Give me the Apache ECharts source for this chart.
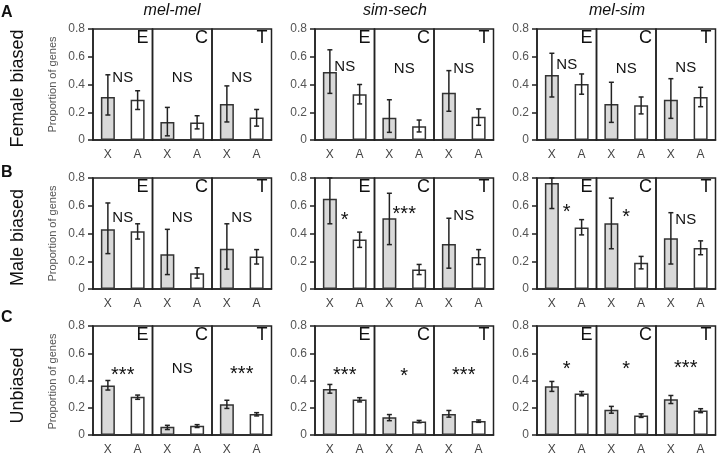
<!DOCTYPE html>
<html>
<head>
<meta charset="utf-8">
<script src="https://cdn.jsdelivr.net/npm/echarts@6/dist/echarts.min.js"></script>
<style>html,body{margin:0;padding:0;background:#fff;}#c{width:720px;height:456px;}</style>
</head>
<body>
<div id="c"></div>
<script>
// ---- data ----
const categories = ['X', 'A'];
const tissues = ['E', 'C', 'T'];
const comparisons = ['mel-mel', 'sim-sech', 'mel-sim'];
const biasGroups = ['Female biased', 'Male biased', 'Unbiased'];
const panelLetters = ['A', 'B', 'C'];
const yTicks = [0, 0.2, 0.4, 0.6, 0.8];
const yTitle = 'Proportion of genes';

// order of pairs: mel-mel E,C,T | sim-sech E,C,T | mel-sim E,C,T ; each pair = [X, A]
const femaleMean = [[0.31,0.29],[0.13,0.127],[0.26,0.163],[0.49,0.33],[0.16,0.10],[0.34,0.168],[0.469,0.404],[0.26,0.25],[0.29,0.31]];
const femaleLow  = [[0.18,0.22],[0.03,0.08],[0.13,0.10],[0.336,0.26],[0.055,0.058],[0.207,0.106],[0.31,0.33],[0.127,0.188],[0.156,0.24]];
const femaleHigh = [[0.47,0.355],[0.235,0.175],[0.39,0.22],[0.65,0.40],[0.29,0.144],[0.50,0.224],[0.625,0.476],[0.416,0.31],[0.442,0.38]];
const femaleSig  = ['NS','NS','NS','NS','NS','NS','NS','NS','NS'];

const maleMean = [[0.43,0.417],[0.25,0.114],[0.29,0.235],[0.65,0.356],[0.51,0.14],[0.325,0.23],[0.764,0.444],[0.473,0.19],[0.366,0.296]];
const maleLow  = [[0.255,0.36],[0.104,0.078],[0.143,0.18],[0.47,0.30],[0.32,0.104],[0.15,0.177],[0.58,0.39],[0.29,0.145],[0.18,0.247]];
const maleHigh = [[0.62,0.47],[0.43,0.153],[0.47,0.284],[0.8,0.41],[0.69,0.177],[0.51,0.284],[0.8,0.50],[0.655,0.235],[0.55,0.347]];
const maleSig  = ['NS','NS','NS','*','***','NS','*','*','NS'];

const unbiasedMean = [[0.364,0.28],[0.06,0.067],[0.226,0.155],[0.338,0.26],[0.131,0.10],[0.155,0.102],[0.357,0.305],[0.186,0.143],[0.262,0.179]];
const unbiasedLow  = [[0.33,0.262],[0.04,0.055],[0.195,0.14],[0.307,0.243],[0.105,0.09],[0.131,0.093],[0.32,0.288],[0.16,0.129],[0.231,0.164]];
const unbiasedHigh = [[0.40,0.293],[0.071,0.076],[0.255,0.164],[0.371,0.274],[0.15,0.107],[0.18,0.11],[0.393,0.319],[0.21,0.155],[0.29,0.193]];
const unbiasedSig  = ['***','NS','***','***','*','***','*','*','***'];

// ---- layout (positions / styles) ----
const sigLevel = [
  [0.45,0.45,0.45,0.53,0.51,0.51,0.54,0.51,0.52],
  [0.51,0.51,0.51,0.53,0.575,0.53,0.59,0.555,0.50],
  [0.48,0.49,0.49,0.48,0.47,0.48,0.52,0.52,0.53]
];
const colLeft = [93, 315, 537];
const subW = 59.5;
const rowTop = [29, 178, 326];
const rowH = 111;
const letterY = [5, 165, 310];
const FONT = '"Liberation Sans", Arial, sans-serif';

const groups = [
  {mean: femaleMean, low: femaleLow, high: femaleHigh, sig: femaleSig},
  {mean: maleMean, low: maleLow, high: maleHigh, sig: maleSig},
  {mean: unbiasedMean, low: unbiasedLow, high: unbiasedHigh, sig: unbiasedSig}
];

const grid = [], xAxis = [], yAxis = [], series = [], graphic = [];
let gi = 0;
for (let r = 0; r < 3; r++) {
  for (let c = 0; c < 3; c++) {
    for (let t = 0; t < 3; t++) {
      const k = c * 3 + t;
      const left = colLeft[c] + t * subW;
      const top = rowTop[r];
      grid.push({left: left, top: top, width: subW, height: rowH, show: true,
        borderColor: '#222', borderWidth: 1.5, backgroundColor: 'transparent'});
      xAxis.push({type: 'category', gridIndex: gi, data: categories,
        axisTick: {show: false},
        axisLine: {show: true, lineStyle: {color: '#222', width: 1.5}},
        axisLabel: {color: '#444', fontSize: 12, margin: 9, fontFamily: FONT}});
      const first = t === 0;
      yAxis.push({type: 'value', gridIndex: gi, min: yTicks[0], max: yTicks[yTicks.length - 1], interval: 0.2,
        splitLine: {show: false},
        axisLine: {show: first, lineStyle: {color: '#222', width: 1.5}},
        axisTick: {show: first, length: 5, lineStyle: {color: '#222', width: 1.5}},
        axisLabel: {show: first, color: '#555', fontSize: 12, margin: 8, fontFamily: FONT}});
      const g = groups[r];
      series.push({type: 'bar', xAxisIndex: gi, yAxisIndex: gi, barWidth: 14, z: 2,
        data: g.mean[k].map((v, i) => ({value: v, itemStyle: {color: i === 0 ? '#d9d9d9' : '#ffffff'}})),
        itemStyle: {borderColor: '#333', borderWidth: 1.5},
        silent: true, animation: false});
      series.push({type: 'custom', xAxisIndex: gi, yAxisIndex: gi, z: 5, clip: false, animation: false,
        encode: {x: 0, y: [1, 2]},
        data: categories.map((cat, i) => [i, g.low[k][i], g.high[k][i]]),
        renderItem: function (params, api) {
          const lo = api.coord([api.value(0), api.value(1)]);
          const hi = api.coord([api.value(0), api.value(2)]);
          const x = lo[0], h = 2.5;
          const st = {stroke: '#222', lineWidth: 1.5};
          return {type: 'group', children: [
            {type: 'line', shape: {x1: x, y1: lo[1], x2: x, y2: hi[1]}, style: st},
            {type: 'line', shape: {x1: x - h, y1: lo[1], x2: x + h, y2: lo[1]}, style: st},
            {type: 'line', shape: {x1: x - h, y1: hi[1], x2: x + h, y2: hi[1]}, style: st}
          ]};
        }});
      // tissue letter
      graphic.push({type: 'text', x: left + subW - 4, y: top + 0.5,
        style: {text: tissues[t], font: '18px ' + FONT, fill: '#111', align: 'right', verticalAlign: 'top'}});
      // significance label
      const s = g.sig[k];
      const isStar = s.indexOf('*') >= 0;
      const yv = top + rowH * (1 - sigLevel[r][k] / 0.8) + (isStar ? 5 : 0);
      graphic.push({type: 'text', x: left + subW / 2, y: yv,
        style: {text: s, font: (isStar ? '20px ' : '15px ') + FONT, fill: '#111', align: 'center', verticalAlign: 'middle'}});
      gi++;
    }
  }
  // row letter, row label, y title
  graphic.push({type: 'text', x: 1, y: letterY[r],
    style: {text: panelLetters[r], font: 'bold 16px ' + FONT, fill: '#111', verticalAlign: 'top'}});
  graphic.push({type: 'text', x: 18, y: rowTop[r] + rowH / 2 + 4, rotation: Math.PI / 2,
    style: {text: biasGroups[r], font: '18px ' + FONT, fill: '#111', align: 'center', verticalAlign: 'middle'}});
  graphic.push({type: 'text', x: 53, y: rowTop[r] + rowH / 2, rotation: Math.PI / 2,
    style: {text: yTitle, font: '11px ' + FONT, fill: '#555', align: 'center', verticalAlign: 'middle'}});
}
const titleX = [172, 395, 617];
for (let c = 0; c < 3; c++) {
  graphic.push({type: 'text', x: titleX[c], y: 11,
    style: {text: comparisons[c], font: 'italic 16px ' + FONT, fill: '#111', align: 'center', verticalAlign: 'middle'}});
}

const chart = echarts.init(document.getElementById('c'), null, {renderer: 'canvas'});
chart.setOption({animation: false, backgroundColor: '#fff', grid, xAxis, yAxis, series, graphic});
</script>
</body>
</html>
